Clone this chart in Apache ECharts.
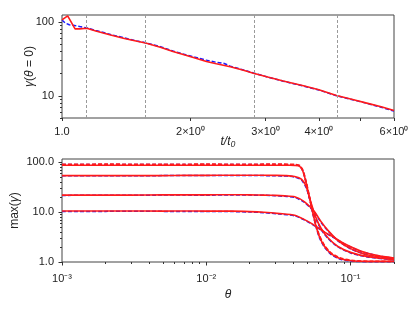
<!DOCTYPE html>
<html><head><meta charset="utf-8">
<script src="https://cdn.jsdelivr.net/npm/echarts@6/dist/echarts.min.js"></script>
<style>html,body{margin:0;padding:0;background:#fff}#c{width:415px;height:311px}</style>
</head><body><div id="c"></div>
<script>
// ---------- top panel: gamma(theta=0) vs t/t0 ----------
const tRed  = [1.0, 1.031, 1.073, 1.1, 1.143, 1.2, 1.3, 1.4, 1.5, 1.57, 1.7, 1.82, 1.95, 2.05, 2.18, 2.3, 2.48, 2.65, 2.81, 3.05, 3.3, 3.68, 4.0, 4.4, 4.8, 5.18, 5.6, 6.0];
const gRed  = [107, 122, 81, 81, 82.5, 76, 67, 60, 55, 52, 45.5, 40, 35.5, 32.5, 29.2, 27.2, 24.8, 22.4, 20.3, 17.9, 15.9, 13.7, 12.1, 10.1, 8.9, 7.96, 7.1, 6.3];
const tBlue = [1.0, 1.018, 1.04, 1.07, 1.1, 1.143, 1.2, 1.3, 1.4, 1.5, 1.57, 1.7, 1.82, 1.95, 2.05, 2.18, 2.3, 2.4, 2.48, 2.65, 2.81, 3.05, 3.3, 3.68, 4.0, 4.4, 4.8, 5.18, 5.6, 6.0];
const gBlue = [107, 97, 92, 90, 87, 83.5, 77, 68, 61, 55.5, 52.5, 46.5, 40.5, 36, 33.5, 30.5, 28.5, 27.5, 25.3, 22.6, 20.4, 17.8, 15.8, 13.6, 12.0, 10.0, 8.85, 7.9, 7.0, 6.2];
const tMarks = [1.14, 1.57, 2.82, 4.42];
const topXLabelVals = [1, 2, 3, 4, 6];
const topXLabels = ['1.0', '2\u00D710\u2070', '3\u00D710\u2070', '4\u00D710\u2070', '6\u00D710\u2070'];
const topXTickVals = [1, 2, 3, 4, 5, 6];
const topYMajor = [10, 100];
const topYLabels = ['10', '100'];
const topYMinor = [5, 6, 7, 8, 9, 20, 30, 40, 50, 60, 70, 80, 90];

// ---------- bottom panel: max(gamma) vs theta ----------
const thA = [0.001, 0.0015, 0.002, 0.003, 0.005, 0.007, 0.01, 0.015, 0.02, 0.03, 0.038, 0.041, 0.0444, 0.0468, 0.0493, 0.052, 0.0549, 0.0579, 0.061, 0.0661, 0.0735, 0.0862, 0.1066, 0.14, 0.2];
const mA_red  = [86, 86, 86.5, 86, 86, 86.5, 86, 86, 86.5, 86, 86, 85.5, 82, 64.7, 37.6, 18.7, 9.31, 5.01, 3.15, 2.04, 1.45, 1.15, 1.05, 1.03, 1.03];
const mA_blue = [89, 89, 89, 89.5, 89, 89, 89, 89.5, 89, 89, 88.5, 88, 84, 66, 38, 19, 9.0, 4.8, 3.0, 1.95, 1.4, 1.12, 1.03, 1.01, 1.01];
const mA_redD = [90, 90, 90.5, 90, 90, 90, 90.5, 90, 90, 90.5, 90, 89, 85, 67, 39, 19.5, 9.6, 5.2, 3.3, 2.1, 1.5, 1.18, 1.06, 1.03, 1.03];
const thB = [0.001, 0.002, 0.003, 0.005, 0.007, 0.01, 0.015, 0.02, 0.03, 0.036, 0.041, 0.0456, 0.0493, 0.0534, 0.0579, 0.0627, 0.0697, 0.0817, 0.1011, 0.1318, 0.2];
const mB_red  = [53.5, 53.5, 53.5, 53.5, 54, 54, 54.5, 54.5, 54, 53.5, 51.3, 45.3, 32.2, 14.8, 7.38, 4.63, 3.05, 2.04, 1.54, 1.28, 1.11];
const mB_blue = [53, 53, 53, 53.5, 53.5, 53.5, 53.5, 54, 53, 52.5, 50, 44, 30.5, 14, 7.0, 4.4, 2.95, 2.0, 1.5, 1.26, 1.1];
const thC = [0.001, 0.002, 0.003, 0.005, 0.007, 0.01, 0.015, 0.02, 0.025, 0.03, 0.035, 0.041, 0.048, 0.0563, 0.0627, 0.0697, 0.0817, 0.1011, 0.1318, 0.2];
const mC_red  = [21.8, 21.8, 21.8, 22, 22, 22, 22.2, 22, 21.8, 21.5, 21.0, 20.2, 16.0, 10.07, 6.32, 4.29, 2.69, 1.83, 1.38, 1.18];
const mC_blue = [21.5, 21.6, 21.6, 21.8, 21.8, 21.7, 22, 21.8, 21.6, 21.2, 20.6, 19.7, 15.5, 9.8, 6.1, 4.2, 2.65, 1.8, 1.37, 1.17];
const thD = [0.001, 0.002, 0.003, 0.005, 0.007, 0.01, 0.015, 0.02, 0.025, 0.0323, 0.041, 0.048, 0.0563, 0.0661, 0.0775, 0.0909, 0.1185, 0.1546, 0.2];
const mD_red  = [10.5, 10.5, 10.5, 10.4, 10.5, 10.4, 10.4, 10.2, 9.9, 9.3, 8.61, 7.04, 5.41, 3.97, 3.05, 2.31, 1.64, 1.34, 1.20];
const mD_blue = [10.3, 10.3, 10.4, 10.3, 10.3, 10.3, 10.2, 10.0, 9.7, 9.1, 8.4, 6.9, 5.3, 3.9, 3.0, 2.28, 1.62, 1.33, 1.19];
const botXMajor = [0.001, 0.01, 0.1];
const botXLabels = ['10\u207B\u00B3', '10\u207B\u00B2', '10\u207B\u00B9'];
const botXMinor = [0.002, 0.003, 0.004, 0.005, 0.006, 0.007, 0.008, 0.009, 0.02, 0.03, 0.04, 0.05, 0.06, 0.07, 0.08, 0.09, 0.2];
const botYMajor = [1, 10, 100];
const botYLabels = ['1.0', '10.0', '100.0'];
const botYMinor = [2, 3, 4, 5, 6, 7, 8, 9, 20, 30, 40, 50, 60, 70, 80, 90];

const FONT = 'Liberation Sans, Arial, sans-serif';
const INK = '#333';
const RED = '#ff1a1a';
const BLUE = '#1a1aff';

function zip(xs, ys) { return xs.map((x, i) => [x, ys[i]]); }
function pick(vals, labels) {
  return function (v) {
    let best = 0, bd = Infinity;
    for (let i = 0; i < vals.length; i++) {
      const d = Math.abs(Math.log(v) - Math.log(vals[i]));
      if (d < bd) { bd = d; best = i; }
    }
    return bd < 1e-3 ? labels[best] : '';
  };
}
function axisPair(dim, gridIndex, min, max, major, labels, minor, majorLen, margin, name) {
  const pos = dim === 'x' ? 'bottom' : 'left';
  const main = {
    type: 'log', logBase: 10, gridIndex, min, max, position: pos, offset: 0,
    axisLine: { show: false }, splitLine: { show: false },
    axisTick: { show: true, inside: false, length: majorLen, customValues: major, lineStyle: { color: INK, width: 1 } },
    axisLabel: { show: true, customValues: major, formatter: pick(major, labels), fontFamily: FONT, fontSize: 11, color: '#222', margin,
                 hideOverlap: false, showMinLabel: true, showMaxLabel: true },
    minorTick: { show: false },
    nameMoveOverlap: false
  };
  if (name) Object.assign(main, name);
  const sub = {
    type: 'log', logBase: 10, gridIndex, min, max, position: pos, offset: 0,
    axisLine: { show: false }, splitLine: { show: false },
    axisTick: { show: true, inside: false, length: 2, customValues: minor, lineStyle: { color: INK, width: 1 } },
    axisLabel: { show: false }
  };
  return [main, sub];
}

const italic = { fontStyle: 'italic', fontFamily: FONT, fontSize: 12, color: '#222' };
const upright = { fontFamily: FONT, fontSize: 12, color: '#222' };

const topX = axisPair('x', 0, 1, 6, topXLabelVals, topXLabels, topXTickVals, 3, 8, {
  name: 't/t\u2080', nameLocation: 'middle', nameGap: 18, nameTextStyle: italic
});
topX[0].axisTick.customValues = topXTickVals;
const topY = axisPair('y', 0, 5, 125, topYMajor, topYLabels, topYMinor, 3.5, 8, {
  name: '{i|\u03B3}{u|(}{i|\u03B8}{u| = 0)}', nameLocation: 'middle', nameGap: 26,
  nameTextStyle: { rich: { i: italic, u: upright } }
});
const botX = axisPair('x', 1, 0.001, 0.2, botXMajor, botXLabels, botXMinor, 3.5, 11, {
  name: '\u03B8', nameLocation: 'middle', nameGap: 27, nameTextStyle: italic
});
const botY = axisPair('y', 1, 1, 115, botYMajor, botYLabels, botYMinor, 3.5, 8, {
  name: '{u|max(}{i|\u03B3}{u|)}', nameLocation: 'middle', nameGap: 41,
  nameTextStyle: { rich: { i: italic, u: upright } }
});

function line(xi, yi, data, color, width, dashed, z, smooth) {
  return {
    type: 'line', xAxisIndex: xi, yAxisIndex: yi, data, showSymbol: false, symbol: 'none',
    smooth: smooth || false, z: z || 2, silent: true,
    lineStyle: { color, width, type: dashed ? [4, 2] : 'solid' }
  };
}

const series = [];
const markSeries = line(0, 0, zip(tBlue, gBlue), BLUE, 1.5, true, 2);
markSeries.markLine = {
  silent: true, symbol: 'none', label: { show: false },
  lineStyle: { color: '#9a9a9a', type: [3, 2], width: 1 },
  data: tMarks.map(t => ({ xAxis: t }))
};
series.push(markSeries);
series.push(line(0, 0, zip(tRed, gRed), RED, 1.6, false, 3));
const sm = 0.2;
series.push(line(2, 2, zip(thA, mA_blue), BLUE, 1.5, true, 2, sm));
series.push(line(2, 2, zip(thA, mA_redD), RED, 1.8, true, 3, sm));
series.push(line(2, 2, zip(thA, mA_red), RED, 1.6, false, 4, sm));
series.push(line(2, 2, zip(thB, mB_blue), BLUE, 1.5, true, 2, sm));
series.push(line(2, 2, zip(thB, mB_red), RED, 1.6, false, 4, sm));
series.push(line(2, 2, zip(thC, mC_blue), BLUE, 1.5, true, 2, sm));
series.push(line(2, 2, zip(thC, mC_red), RED, 1.6, false, 4, sm));
series.push(line(2, 2, zip(thD, mD_blue), BLUE, 1.5, true, 2, sm));
series.push(line(2, 2, zip(thD, mD_red), RED, 1.6, false, 4, sm));

const chart = echarts.init(document.getElementById('c'), null, { renderer: 'canvas' });
chart.setOption({
  animation: false,
  backgroundColor: '#fff',
  grid: [
    { left: 62, top: 15, width: 332, height: 103, show: true, borderColor: '#444', borderWidth: 1, containLabel: false },
    { left: 62, top: 159, width: 332, height: 103, show: true, borderColor: '#444', borderWidth: 1, containLabel: false }
  ],
  xAxis: [topX[0], topX[1], botX[0], botX[1]],
  yAxis: [topY[0], topY[1], botY[0], botY[1]],
  series
});
</script></body></html>
